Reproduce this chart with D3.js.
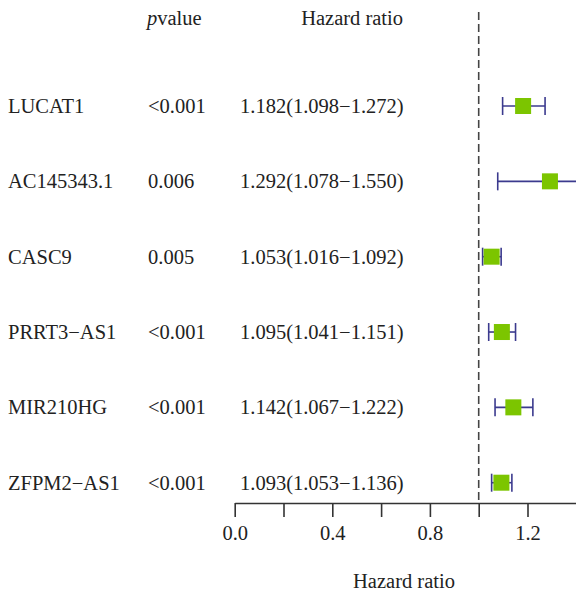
<!DOCTYPE html>
<html>
<head>
<meta charset="utf-8">
<style>
body { margin: 0; background: #fff; }
text { font-family: "Liberation Serif", "DejaVu Serif", serif; font-size: 20.5px; fill: #222; }
</style>
<script src="https://cdn.jsdelivr.net/npm/d3@7"></script>
</head>
<body>
<script>
// forest plot data
var genes  = ["LUCAT1", "AC145343.1", "CASC9", "PRRT3\u2212AS1", "MIR210HG", "ZFPM2\u2212AS1"];
var pvals  = ["<0.001", "0.006", "0.005", "<0.001", "<0.001", "<0.001"];
var hr     = [1.182, 1.292, 1.053, 1.095, 1.142, 1.093];
var lower  = [1.098, 1.078, 1.016, 1.041, 1.067, 1.053];
var upper  = [1.272, 1.550, 1.092, 1.151, 1.222, 1.136];
var ticks  = [0, 0.2, 0.4, 0.6, 0.8, 1.0, 1.2];

var width = 576, height = 597;

var svg = d3.select("body").append("svg")
	.attr("width", width)
	.attr("height", height);

var x = d3.scaleLinear().domain([0, 1.4]).range([234.7, 576.3]);
var y = d3.scalePoint().domain(d3.range(genes.length)).range([106, 482.7]);

var fmt = function(v) { return v.toFixed(3); };

// headers
svg.append("text").attr("x", 147).attr("y", 25)
	.html('<tspan font-style="italic">p</tspan>value');
svg.append("text").attr("x", 403).attr("y", 25)
	.attr("text-anchor", "end").text("Hazard ratio");

// table columns
var rows = svg.selectAll(".row").data(genes).enter().append("g")
	.attr("transform", function(d, i) { return "translate(0," + (y(i) + 7) + ")"; });
rows.append("text").attr("x", 8).text(function(d) { return d; });
rows.append("text").attr("x", 148).text(function(d, i) { return pvals[i]; });
rows.append("text").attr("x", 240)
	.text(function(d, i) { return fmt(hr[i]) + "(" + fmt(lower[i]) + "\u2212" + fmt(upper[i]) + ")"; });

// reference line at HR = 1
svg.append("line")
	.attr("x1", x(1)).attr("x2", x(1))
	.attr("y1", 12).attr("y2", 503)
	.attr("stroke", "#444").attr("stroke-width", 1.6)
	.attr("stroke-dasharray", "8,4");

// confidence intervals
var ci = svg.selectAll(".ci").data(hr).enter().append("g").attr("stroke", "#3b3a8e").attr("stroke-width", 1.6);
ci.append("line")
	.attr("x1", function(d, i) { return x(lower[i]); })
	.attr("x2", function(d, i) { return x(upper[i]); })
	.attr("y1", function(d, i) { return y(i); })
	.attr("y2", function(d, i) { return y(i); });
ci.append("line")
	.attr("x1", function(d, i) { return x(lower[i]); })
	.attr("x2", function(d, i) { return x(lower[i]); })
	.attr("y1", function(d, i) { return y(i) - 9; })
	.attr("y2", function(d, i) { return y(i) + 9; });
ci.append("line")
	.attr("x1", function(d, i) { return x(upper[i]); })
	.attr("x2", function(d, i) { return x(upper[i]); })
	.attr("y1", function(d, i) { return y(i) - 9; })
	.attr("y2", function(d, i) { return y(i) + 9; });

// point estimates
svg.selectAll(".box").data(hr).enter().append("rect")
	.attr("x", function(d) { return x(d) - 8; })
	.attr("y", function(d, i) { return y(i) - 8; })
	.attr("width", 16).attr("height", 16)
	.attr("fill", "#7cc500");

// x axis
var axis = svg.append("g")
	.attr("transform", "translate(0,503)")
	.call(d3.axisBottom(x)
		.tickValues(ticks)
		.tickSize(14)
		.tickSizeOuter(0)
		.tickPadding(10)
		.tickFormat(function(d) { return Math.round(d * 10) % 4 === 0 ? d.toFixed(1) : ""; }));
axis.select(".domain").attr("stroke", "#333").attr("stroke-width", 1.6);
axis.selectAll(".tick line").attr("stroke", "#333").attr("stroke-width", 1.6);
axis.selectAll(".tick text")
	.attr("font-family", null).attr("font-size", null)
	.attr("fill", "#222").attr("dy", null).attr("y", 37);

svg.append("text").attr("x", 404).attr("y", 588)
	.attr("text-anchor", "middle").text("Hazard ratio");
</script>
</body>
</html>
